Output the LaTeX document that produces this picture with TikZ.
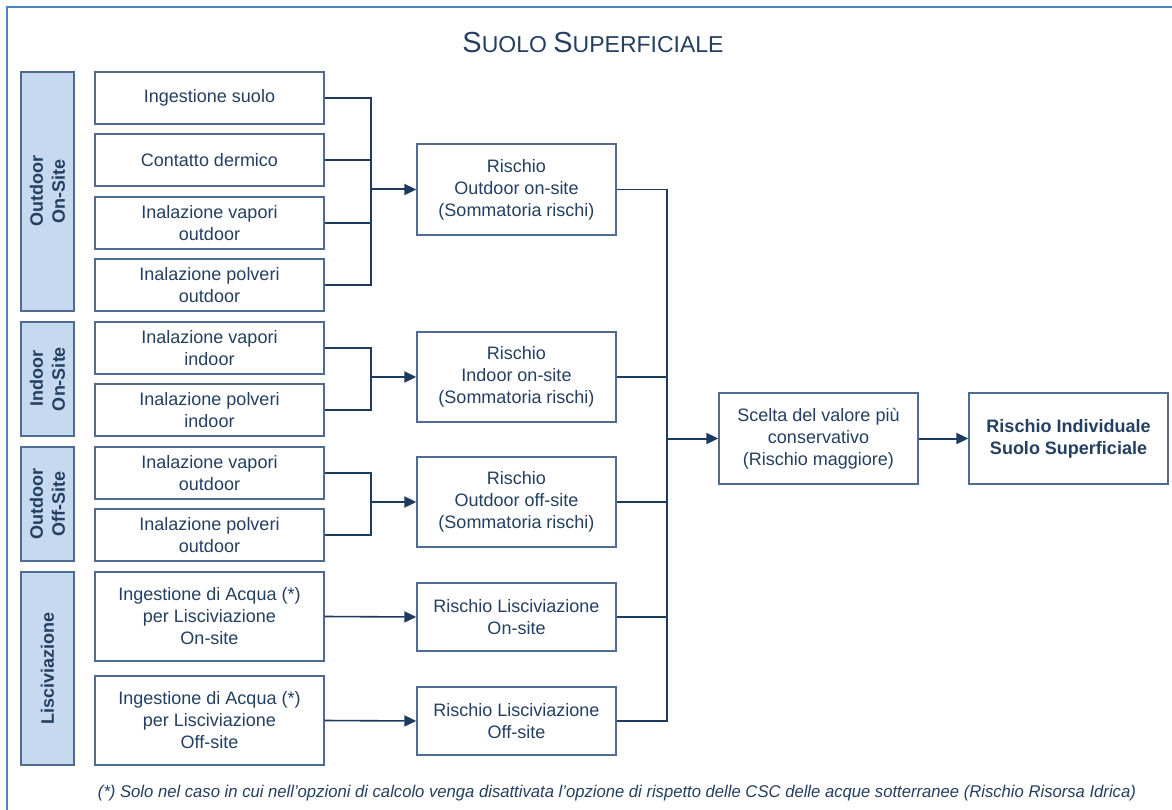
\documentclass[tikz,border=0pt]{standalone}
\usepackage{fontspec}
\usepackage{graphicx}
\setmainfont{Liberation Sans}
\usetikzlibrary{arrows.meta}
\definecolor{txt}{RGB}{36,63,96}
\definecolor{boxc}{RGB}{79,107,145}
\definecolor{linec}{RGB}{31,58,95}
\definecolor{labfill}{RGB}{198,217,241}
\definecolor{framec}{RGB}{79,129,189}
\begin{document}
\begin{tikzpicture}[x=1pt,y=-1pt,
  box/.style={draw=boxc, line width=1.4pt, fill=white, inner sep=0pt, align=center, text=txt, font=\fontsize{18}{22}\selectfont},
  side/.style={draw=boxc, line width=1.4pt, fill=labfill, inner sep=0pt, align=center, text=txt, font=\fontsize{18}{22}\selectfont\bfseries},
  conn/.style={draw=linec, line width=1.4pt},
  arr/.style={draw=linec, line width=2pt, -{Triangle[length=12pt,width=11pt]}},
  inbox/.style={box, minimum width=229pt},
  rbox/.style={box, minimum width=199pt},
]
\useasboundingbox (0,0) rectangle (1172,810);
\fill[white] (0,0) rectangle (1172,810);
% frame (open on right and bottom, cropped)
\coordinate (fbl) at (7,815);
\coordinate (ftl) at (7,7);
\coordinate (ftr) at (1180,7);
\draw[draw=framec, line width=2.6pt] (fbl) -- (ftl) -- (ftr);

% title
\node[anchor=base, text=txt, inner sep=0pt] (title) at (593,52.7)
  {\fontsize{29}{30}\selectfont S\fontsize{23}{30}\selectfont UOLO \fontsize{29}{30}\selectfont S\fontsize{23}{30}\selectfont UPERFICIALE};

% side labels
\node[side, minimum width=239pt, minimum height=53pt, rotate=90] (L1) at (47.5,191.5) {Outdoor\\On-Site};
\node[side, minimum width=114pt, minimum height=53pt, rotate=90] (L2) at (47.5,379) {Indoor\\On-Site};
\node[side, minimum width=114pt, minimum height=53pt, rotate=90] (L3) at (47.5,504) {Outdoor\\Off-Site};
\node[side, minimum width=193pt, minimum height=53pt, rotate=90] (L4) at (47.5,668.5) {Lisciviazione};

% input boxes
\node[inbox, minimum height=52pt] (in1) at (209.5,98) {Ingestione suolo};
\node[inbox, minimum height=52pt] (in2) at (209.5,160) {Contatto dermico};
\node[inbox, minimum height=52pt] (in3) at (209.5,223) {Inalazione vapori\\outdoor};
\node[inbox, minimum height=52pt] (in4) at (209.5,285) {Inalazione polveri\\outdoor};
\node[inbox, minimum height=52pt] (in5) at (209.5,348) {Inalazione vapori\\indoor};
\node[inbox, minimum height=52pt] (in6) at (209.5,410) {Inalazione polveri\\indoor};
\node[inbox, minimum height=52pt] (in7) at (209.5,473) {Inalazione vapori\\outdoor};
\node[inbox, minimum height=52pt] (in8) at (209.5,535) {Inalazione polveri\\outdoor};
\node[inbox, minimum height=89pt] (in9) at (209.5,616.5) {Ingestione di Acqua (*)\\per Lisciviazione\\On-site};
\node[inbox, minimum height=89pt] (in10) at (209.5,720.5) {Ingestione di Acqua (*)\\per Lisciviazione\\Off-site};

% risk boxes
\node[rbox, minimum height=91pt] (r1) at (516.5,189.5) {Rischio\\Outdoor on-site\\(Sommatoria rischi)};
\node[rbox, minimum height=90pt] (r2) at (516.5,377) {Rischio\\Indoor on-site\\(Sommatoria rischi)};
\node[rbox, minimum height=90pt] (r3) at (516.5,502) {Rischio\\Outdoor off-site\\(Sommatoria rischi)};
\node[rbox, minimum height=68pt] (r4) at (516.5,617) {Rischio Lisciviazione\\On-site};
\node[rbox, minimum height=68pt] (r5) at (516.5,721) {Rischio Lisciviazione\\Off-site};

\node[rbox, minimum height=91pt] (sc) at (818.5,438.5) {Scelta del valore più\\conservativo\\(Rischio maggiore)};
\node[rbox, minimum height=91pt, font=\fontsize{18}{22}\selectfont\bfseries] (fin) at (1068.5,438.5) {Rischio Individuale\\Suolo Superficiale};

% buses
\coordinate (b1) at (371,189.5);
\coordinate (b2) at (371,377);
\coordinate (b3) at (371,502);
\coordinate (bb) at (667,438.5);

\draw[conn] (in1.east) -| (b1);
\draw[conn] (in4.east) -| (b1);
\draw[conn] (in2.east) -- (in2.east -| b1);
\draw[conn] (in3.east) -- (in3.east -| b1);
\draw[arr] (b1) -- (r1.west);

\draw[conn] (in5.east) -| (b2);
\draw[conn] (in6.east) -| (b2);
\draw[arr] (b2) -- (r2.west);

\draw[conn] (in7.east) -| (b3);
\draw[conn] (in8.east) -| (b3);
\draw[arr] (b3) -- (r3.west);

\draw[arr, line width=1.6pt] (in9.east) -- (r4.west);
\draw[arr, line width=1.6pt] (in10.east) -- (r5.west);

\draw[conn] (r1.east) -| (bb);
\draw[conn] (r5.east) -| (bb);
\draw[conn] (r2.east) -- (r2.east -| bb);
\draw[conn] (r3.east) -- (r3.east -| bb);
\draw[conn] (r4.east) -- (r4.east -| bb);
\draw[arr] (bb) -- (sc.west);
\draw[arr] (sc.east) -- (fin.west);

% footnote
\node[anchor=base, text=txt, inner sep=0pt] (note) at (617,797.5)
  {\resizebox{1038pt}{\height}{\fontsize{17}{20}\selectfont\itshape (*) Solo nel caso in cui nell’opzioni di calcolo venga disattivata l’opzione di rispetto delle CSC delle acque sotterranee (Rischio Risorsa Idrica)}};
\end{tikzpicture}
\end{document}
